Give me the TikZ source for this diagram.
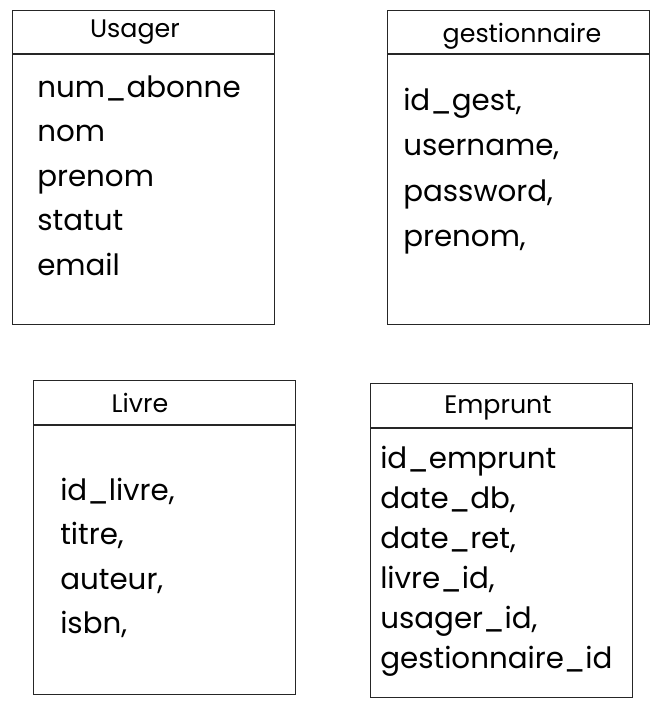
\documentclass[tikz,border=0pt]{standalone}
\usepackage{fontspec}
\setmainfont{Poppins}
\usetikzlibrary{positioning,calc}

\begin{document}
\begin{tikzpicture}[x=0.75pt, y=-0.75pt,
    tablebox/.style={draw=black!85, line width=0.9pt, inner sep=0pt,
        minimum width=196.5pt, minimum height=235.5pt, anchor=north west},
    headrule/.style={draw=black!85, line width=0.9pt},
    tabletitle/.style={font=\fontsize{19}{22}\selectfont, anchor=base},
    field/.style={font=\fontsize{22}{26}\selectfont, anchor=base west, inner sep=0pt},
]
\useasboundingbox (0,0) rectangle (659,708);

% Four table boxes
\node[tablebox] (usager) at (12,10) {};
\node[tablebox] (gest) at (387,10) {};
\node[tablebox] (livre) at (33,380) {};
\node[tablebox] (emprunt) at (370,383) {};

% Header rules
\draw[headrule] ($(usager.north west)+(0,44)$) -- ($(usager.north east)+(0,44)$);
\draw[headrule] ($(gest.north west)+(0,44)$) -- ($(gest.north east)+(0,44)$);
\draw[headrule] ($(livre.north west)+(0,45)$) -- ($(livre.north east)+(0,45)$);
\draw[headrule] ($(emprunt.north west)+(0,45)$) -- ($(emprunt.north east)+(0,45)$);

% Table names
\node[tabletitle] (usagerT) at (135,37) {Usager};
\node[tabletitle] (gestT) at (522,42) {gestionnaire};
\node[tabletitle] (livreT) at (140,412) {Livre};
\node[tabletitle] (empruntT) at (498,413) {Emprunt};

% Attributes, one line each
\foreach \f [count=\i] in {num\_abonne, nom, prenom, statut, email}
    \node[field] (usager-\i) at (37,{97+44.5*(\i-1)}) {\f};
\foreach \f [count=\i] in {{id\_gest,}, {username,}, {password,}, {prenom,}}
    \node[field] (gest-\i) at (403,{110+45.5*(\i-1)}) {\f};
\foreach \f [count=\i] in {{id\_livre,}, {titre,}, {auteur,}, {isbn,}}
    \node[field] (livre-\i) at (60,{500+44.5*(\i-1)}) {\f};
\foreach \f [count=\i] in {id\_emprunt, {date\_db,}, {date\_ret,}, {livre\_id,},
        {usager\_id,}, gestionnaire\_id}
    \node[field] (emprunt-\i) at (380,{468+40*(\i-1)}) {\f};

\end{tikzpicture}
\end{document}
